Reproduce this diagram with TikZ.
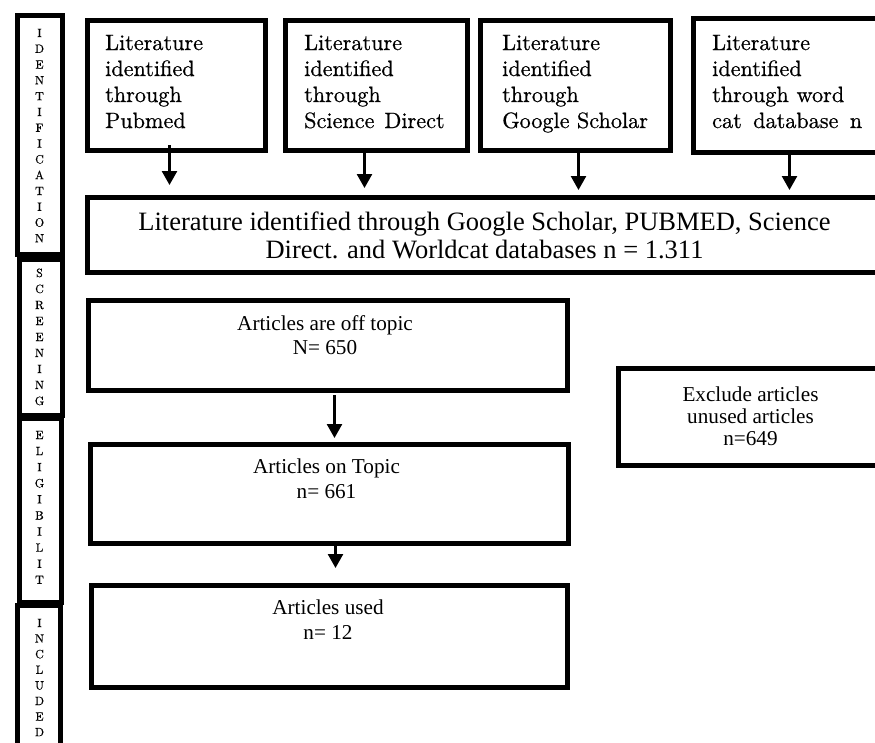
\documentclass[tikz,border=0pt]{standalone}
\usepackage{fontspec}
\newfontfamily\tnr{Liberation Serif}
\newfontface\palf{lmroman10-regular.otf}[FakeBold=0.6]
\usetikzlibrary{arrows.meta,calc}
\begin{document}
\begin{tikzpicture}[x=1pt,y=-1pt,
  frame/.style={draw=black, line width=5pt, fill=white, inner sep=0pt, anchor=north west},
  arr/.style={line width=2.5pt, -{Triangle[width=15pt,length=14pt]}},
  side/.style={anchor=base, inner sep=0pt, font=\palf\fontsize{12}{12}\selectfont},
  src/.style={anchor=base west, inner sep=0pt, font=\palf\fontsize{22.2}{24}\selectfont},
  bigtxt/.style={anchor=base, inner sep=0pt, font=\tnr\fontsize{26.5}{28}\selectfont},
  midtxt/.style={anchor=base, inner sep=0pt, font=\tnr\fontsize{21.2}{24}\selectfont}]

\useasboundingbox (0,0) rectangle (875,742);
\clip (0,0) rectangle (875,742);
\fill[white] (0,0) rectangle (875,742);

% ---------- side bars ----------
\node[frame, minimum width=45pt, minimum height=239pt] (s1) at (14.5,12.5) {};
\begin{scope}
  \clip (s1.north west) rectangle (s1.south east);
  \foreach \l [count=\i from 0] in {I,D,E,N,T,I,F,I,C,A,T,I,O,N}
    \node[side] (s1l\i) at (39.5,37+15.8*\i) {\l};
\end{scope}

\node[frame, minimum width=43pt, minimum height=156pt] (s2) at (16.5,256.5) {};
\begin{scope}
  \clip (s2.north west) rectangle (s2.south east);
  \foreach \l [count=\i from 0] in {S,C,R,E,E,N,I,N,G}
    \node[side] (s2l\i) at (39.5,277+16*\i) {\l};
\end{scope}

\node[frame, minimum width=42pt, minimum height=184pt] (s3) at (16.5,415.5) {};
\begin{scope}
  \clip (s3.north west) rectangle (s3.south east);
  \foreach \l [count=\i from 0] in {E,L,I,G,I,B,I,L,I,T}
    \node[side] (s3l\i) at (39.5,439+16.1*\i) {\l};
\end{scope}

\node[frame, minimum width=43pt, minimum height=160pt] (s4) at (14.5,602.5) {};
\begin{scope}
  \clip (s4.north west) rectangle (s4.south east);
  \foreach \l [count=\i from 0] in {I,N,C,L,U,D,E,D}
    \node[side] (s4l\i) at (39.5,627+15.6*\i) {\l};
\end{scope}

% ---------- source boxes ----------
\node[frame, minimum width=178pt, minimum height=130pt] (b1) at (84.5,17.5) {};
\node[frame, minimum width=182pt, minimum height=130pt] (b2) at (282.5,17.5) {};
\node[frame, minimum width=190pt, minimum height=130pt] (b3) at (477.5,17.5) {};
\node[frame, minimum width=220pt, minimum height=134pt] (b4) at (690.5,15.5) {};

\foreach \t [count=\i from 0] in {Literature,identified,through,Pubmed}
  \node[src] (b1t\i) at (105,50+26*\i) {\t};
\foreach \t [count=\i from 0] in {Literature,identified,through,{Science\hspace{0.45em}Direct}}
  \node[src] (b2t\i) at (304,50+26*\i) {\t};
\foreach \t [count=\i from 0] in {Literature,identified,through,{Google Scholar}}
  \node[src] (b3t\i) at (502,50+26*\i) {\t};
\node[src] (b4t0) at (712,50) {Literature};
\node[src] (b4t1) at (712,76) {identified};
\node[src] (b4t2) at (712,102) {\makebox[132pt][s]{through word}};
\node[src] (b4t3) at (712,128) {\makebox[150pt][s]{cat database n}};

% ---------- merged box ----------
\node[frame, minimum width=825.5pt, minimum height=75pt] (big) at (84.5,194.5) {};
\node[bigtxt] (bigt1) at (484.5,230) {Literature identified through Google Scholar, PUBMED, Science};
\node[bigtxt] (bigt2) at (484.5,258) {Direct. and Worldcat databases n = 1.311};

\coordinate (a1) at ([xshift=-6.5pt,yshift=7.5pt]b1.south);
\coordinate (a2) at ([xshift=-11.5pt,yshift=4.5pt]b2.south);
\coordinate (a3) at ([xshift=3.5pt,yshift=2.5pt]b3.south);
\coordinate (a4) at ([xshift=-13.5pt,yshift=4.5pt]b4.south);
\draw[arr] (a1) -- ($(a1 |- big.north)+(0,-9.5)$);
\draw[arr] (a2) -- ($(a2 |- big.north)+(0,-6.5)$);
\draw[arr] (a3) -- ($(a3 |- big.north)+(0,-4.5)$);
\draw[arr] (a4) -- ($(a4 |- big.north)+(0,-4.5)$);

% ---------- screening / eligibility / included ----------
\node[frame, minimum width=479pt, minimum height=90pt] (c1) at (85.5,297.5) {};
\node[midtxt] (c1t1) at (325,330) {Articles are off topic};
\node[midtxt] (c1t2) at (325,354) {N= 650};

\node[frame, minimum width=478pt, minimum height=99pt] (c2) at (87.5,441.5) {};
\node[midtxt] (c2t1) at (326.5,473) {Articles on Topic};
\node[midtxt] (c2t2) at (326.5,498) {n= 661};

\node[frame, minimum width=476pt, minimum height=102pt] (c3) at (88.5,582.5) {};
\node[midtxt] (c3t1) at (328,614) {Articles used};
\node[midtxt] (c3t2) at (328,639) {n= 12};

\node[frame, minimum width=300pt, minimum height=97pt] (ex) at (615.5,365.5) {};
\node[midtxt] (ext1) at (750.5,401) {Exclude articles};
\node[midtxt] (ext2) at (750.5,423) {unused articles};
\node[midtxt] (ext3) at (750.5,445) {n=649};

\coordinate (a5) at ([xshift=7pt,yshift=-2.5pt]c1.south);
\coordinate (a6) at ([xshift=6.5pt]c2.south);
\draw[arr] (a5) -- ($(a5 |- c2.north)+(0,-3.5)$);
\draw[arr] (a6) -- ($(a6 |- c3.north)+(0,-14.5)$);
\end{tikzpicture}
\end{document}
